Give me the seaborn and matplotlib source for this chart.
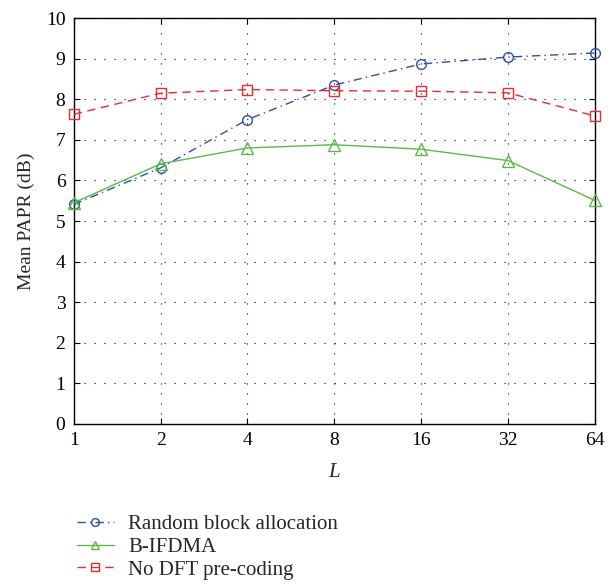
import matplotlib
matplotlib.use("Agg")
import matplotlib.pyplot as plt
import seaborn as sns
import pandas as pd
from matplotlib.ticker import FixedLocator, FixedFormatter, NullLocator

L = [1, 2, 4, 8, 16, 32, 64]
random_block = [5.41, 6.31, 7.50, 8.35, 8.87, 9.04, 9.14]
b_ifdma = [5.45, 6.41, 6.80, 6.88, 6.77, 6.49, 5.51]
no_dft = [7.63, 8.15, 8.24, 8.21, 8.20, 8.16, 7.59]
labels = ["Random block allocation", "B-IFDMA", "No DFT pre-coding"]
yticks = list(range(0, 11))

sns.set_theme(style="ticks")
plt.rcParams['font.family'] = ['Liberation Serif', 'DejaVu Serif']
plt.rcParams['mathtext.fontset'] = 'custom'
plt.rcParams['mathtext.it'] = 'Liberation Serif:italic'

fig = plt.figure(figsize=(6.15, 5.84), dpi=100)
ax = fig.add_axes([0.120, 0.274, 0.847, 0.695])

series = [
    (random_block, "#2d4fa6", (0, (6, 3, 1, 3)), "o", 7),
    (b_ifdma, "#5cb848", "-", "^", 8),
    (no_dft, "#ee2a2e", (0, (6, 4)), "s", 6.5),
]
for (vals, col, ls, mk, ms), lab in zip(series, labels):
    df = pd.DataFrame({"L": L, "v": vals})
    sns.lineplot(data=df, x="L", y="v", ax=ax, color=col, linestyle=ls,
                 marker=mk, markersize=ms, markerfacecolor="none",
                 markeredgecolor=col, markeredgewidth=1.0, linewidth=1.0,
                 label=lab, legend=False, clip_on=False, zorder=3)

ax.set_xscale("log", base=2)
ax.set_xlim(1, 64)
ax.set_ylim(0, 10)
ax.xaxis.set_major_locator(FixedLocator(L))
ax.xaxis.set_major_formatter(FixedFormatter([str(v) for v in L]))
ax.xaxis.set_minor_locator(NullLocator())
ax.set_yticks(yticks)
ax.set_yticklabels([str(v) for v in yticks])

ax.grid(True, linestyle=(0, (1, 8)), color="black", linewidth=0.8)
ax.tick_params(direction="in", top=True, right=True, length=4, width=0.8,
               labelsize=14, colors="black", pad=6)
for s in ax.spines.values():
    s.set_linewidth(1.0)
    s.set_color("black")

ax.set_xlabel("$L$", fontsize=15, labelpad=10)
ax.set_ylabel("Mean PAPR (dB)", fontsize=14, labelpad=8)

handles, labs = ax.get_legend_handles_labels()
fig.legend(handles, labs, loc="upper left", bbox_to_anchor=(0.112, 0.133),
           frameon=False, fontsize=15, handlelength=1.75, labelspacing=0.15,
           handletextpad=0.7, borderaxespad=0, markerscale=0.8)

fig.savefig("out.png", dpi=100)
